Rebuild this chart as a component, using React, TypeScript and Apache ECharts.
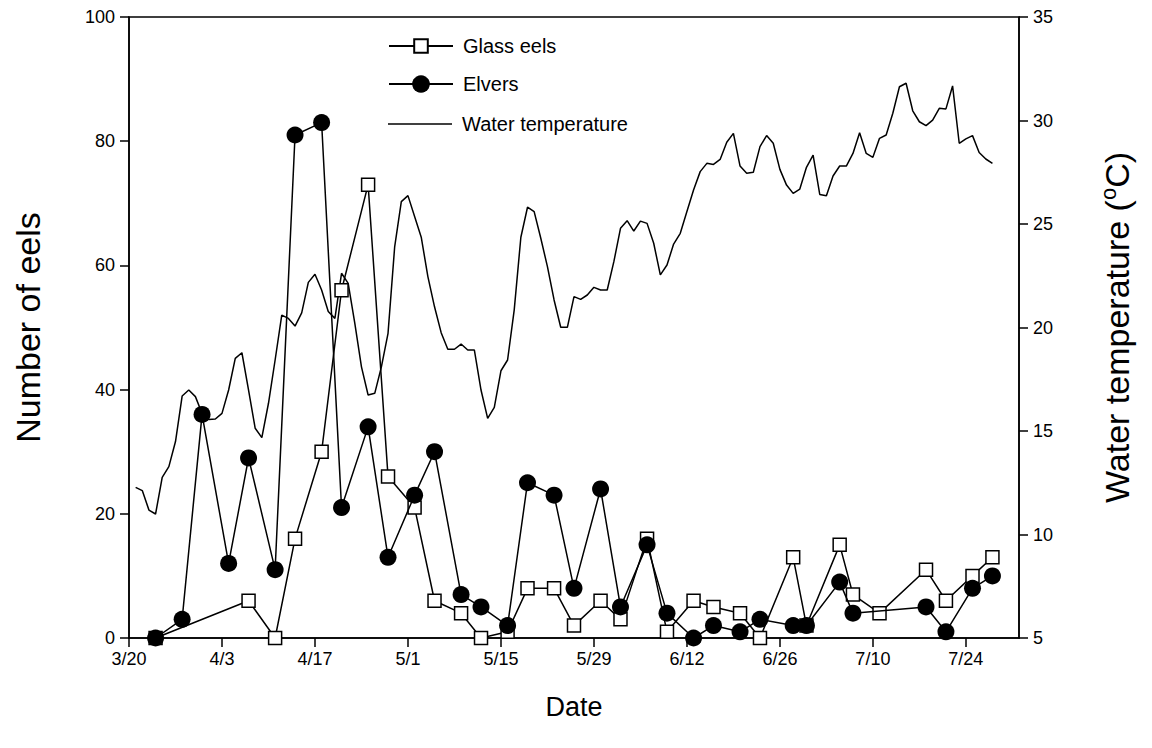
import React, { useEffect, useRef } from "react";
import * as echarts from "echarts";

// x values are days after 3/20
const tickDays = [0, 14, 28, 42, 56, 70, 84, 98, 112, 126];

const glassDays = [4, 18, 22, 25, 29, 32, 36, 39, 43, 46, 50, 53, 57, 60, 64, 67, 71, 74, 78, 81, 85, 88, 92, 95, 100, 102, 107, 109, 113, 120, 123, 127, 130];
const glassValues = [0, 6, 0, 16, 30, 56, 73, 26, 21, 6, 4, 0, 1, 8, 8, 2, 6, 3, 16, 1, 6, 5, 4, 0, 13, 2, 15, 7, 4, 11, 6, 10, 13];

const elverDays = [4, 8, 11, 15, 18, 22, 25, 29, 32, 36, 39, 43, 46, 50, 53, 57, 60, 64, 67, 71, 74, 78, 81, 85, 88, 92, 95, 100, 102, 107, 109, 120, 123, 127, 130];
const elverValues = [0, 3, 36, 12, 29, 11, 81, 83, 21, 34, 13, 23, 30, 7, 5, 2, 25, 23, 8, 24, 5, 15, 4, 0, 2, 1, 3, 2, 2, 9, 4, 5, 1, 8, 10];

// daily water temperature, days 1..130
const tempStartDay = 1;
const tempValues = [
  12.28, 12.12, 11.18, 10.99, 12.76, 13.28, 14.49, 16.69, 16.98, 16.66,
  15.85, 15.56, 15.58, 15.85, 16.98, 18.51, 18.78, 16.98, 15.13, 14.68,
  16.34, 18.43, 20.6, 20.44, 20.07, 20.71, 22.18, 22.57, 21.81, 20.77,
  20.44, 22.62, 22.13, 20.2, 18.1, 16.74, 16.82, 18.1, 19.72, 23.9,
  26.08, 26.37, 25.36, 24.36, 22.46, 21.0, 19.75, 18.95, 18.95, 19.2,
  18.91, 18.91, 16.98, 15.61, 16.14, 17.91, 18.43, 20.85, 24.36, 25.81,
  25.6, 24.31, 22.94, 21.33, 20.01, 20.01, 21.49, 21.36, 21.57, 21.94,
  21.81, 21.81, 23.18, 24.79, 25.16, 24.66, 25.14, 25.03, 24.07, 22.54,
  23.02, 24.03, 24.55, 25.6, 26.64, 27.53, 27.93, 27.88, 28.12, 28.95,
  29.38, 27.8, 27.45, 27.5, 28.74, 29.27, 28.9, 27.64, 26.88, 26.48,
  26.69, 27.74, 28.33, 26.43, 26.37, 27.32, 27.8, 27.8, 28.41, 29.41,
  28.41, 28.22, 29.14, 29.3, 30.35, 31.63, 31.8, 30.47, 29.94, 29.75,
  30.02, 30.59, 30.56, 31.67, 28.9, 29.11, 29.27, 28.45, 28.14, 27.93,
];

const FONT = "'Liberation Sans', Arial, Helvetica, sans-serif";

function dayLabel(d: number): string {
  const dt = new Date(Date.UTC(2001, 2, 20 + Math.round(d)));
  return `${dt.getUTCMonth() + 1}/${dt.getUTCDate()}`;
}

export default function App() {
  const ref = useRef<HTMLDivElement>(null);
  useEffect(() => {
    if (!ref.current) return;
    const chart = echarts.init(ref.current, null, { renderer: "svg" });
    const glassData = glassDays.map((d, i) => [d, glassValues[i]]);
    const elverData = elverDays.map((d, i) => [d, elverValues[i]]);
    const tempData = tempValues.map((v, i) => [tempStartDay + i, v]);
    const axisLine = { show: true, lineStyle: { color: "#000", width: 1.5 } };
    const axisTick = { show: true, inside: false, length: 9, lineStyle: { color: "#000", width: 1.5 } };
    const legendText = { fontFamily: FONT, fontSize: 20, color: "#000", lineHeight: 20, padding: [0, 0, 0, 5] };
    const legendBase = { orient: "vertical", left: 388, padding: 0, itemWidth: 64, textStyle: legendText };
    chart.setOption({
      animation: false,
      backgroundColor: "#fff",
      textStyle: { fontFamily: FONT, color: "#000" },
      grid: {
        left: 129, right: 133, top: 17, bottom: 110,
        show: true, borderColor: "#000", borderWidth: 1.5, backgroundColor: "transparent",
      },
      legend: [
        { ...legendBase, top: 36, itemHeight: 17, data: ["Glass eels"] },
        { ...legendBase, top: 74, itemHeight: 22, data: ["Elvers"] },
        {
          ...legendBase, top: 114, itemHeight: 1.5,
          data: [{ name: "Water temperature", icon: "rect", itemStyle: { color: "#000", borderWidth: 0 } }],
        },
      ],
      xAxis: {
        type: "value",
        min: 0,
        max: 134,
        interval: 14,
        name: "Date",
        nameLocation: "middle",
        nameGap: 55,
        nameTextStyle: { fontFamily: FONT, fontSize: 27, color: "#000" },
        axisLine,
        axisTick: { ...axisTick, customValues: tickDays },
        splitLine: { show: false },
        axisLabel: {
          customValues: tickDays,
          fontFamily: FONT, fontSize: 18, color: "#000", margin: 12,
          formatter: (v: number) => dayLabel(v),
        },
      },
      yAxis: [
        {
          type: "value",
          min: 0,
          max: 100,
          interval: 20,
          position: "left",
          name: "Number of eels",
          nameLocation: "middle",
          nameGap: 84,
          nameRotate: 90,
          nameTextStyle: { fontFamily: FONT, fontSize: 34, color: "#000" },
          axisLine,
          axisTick,
          splitLine: { show: false },
          axisLabel: { fontFamily: FONT, fontSize: 18, color: "#000", margin: 14 },
        },
        {
          type: "value",
          min: 5,
          max: 35,
          interval: 5,
          position: "right",
          name: "Water temperature ({sup|o}C)",
          nameLocation: "middle",
          nameGap: 78,
          nameRotate: 90,
          nameTextStyle: {
            fontFamily: FONT, fontSize: 34, color: "#000", lineHeight: 39,
            rich: { sup: { fontFamily: FONT, fontSize: 22, color: "#000", verticalAlign: "top", lineHeight: 39, padding: [0, 0, 12, 0] } },
          },
          axisLine,
          axisTick,
          splitLine: { show: false },
          axisLabel: { fontFamily: FONT, fontSize: 18, color: "#000", margin: 14 },
        },
      ],
      series: [
        {
          name: "Glass eels",
          type: "line",
          data: glassData,
          yAxisIndex: 0,
          symbol: "rect",
          symbolSize: 13,
          z: 3,
          lineStyle: { color: "#000", width: 1.5 },
          itemStyle: { color: "#fff", borderColor: "#000", borderWidth: 1.5 },
        },
        {
          name: "Elvers",
          type: "line",
          data: elverData,
          yAxisIndex: 0,
          symbol: "circle",
          symbolSize: 17,
          z: 4,
          lineStyle: { color: "#000", width: 1.5 },
          itemStyle: { color: "#000", borderColor: "#000", borderWidth: 0 },
        },
        {
          name: "Water temperature",
          type: "line",
          data: tempData,
          yAxisIndex: 1,
          symbol: "none",
          showSymbol: false,
          z: 2,
          lineStyle: { color: "#000", width: 1.5 },
          itemStyle: { color: "#000" },
        },
      ],
    });
    return () => chart.dispose();
  }, []);
  return <div ref={ref} style={{ position: "fixed", left: 0, top: 0, width: 1152, height: 748 }} />;
}
